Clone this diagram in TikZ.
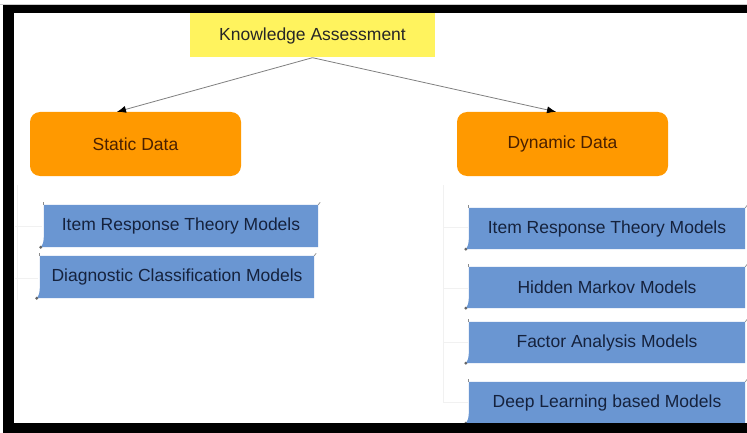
\documentclass[tikz,border=0pt]{standalone}
\usepackage{fontspec}
\setmainfont{Liberation Sans}
\usetikzlibrary{arrows.meta,backgrounds}
\definecolor{kayellow}{HTML}{FFF35E}
\definecolor{dataorange}{HTML}{FF9900}
\definecolor{modelblue}{HTML}{6A96D2}
\definecolor{modeltext}{HTML}{15223D}
\definecolor{orangetext}{HTML}{4A2000}
\definecolor{faint}{HTML}{F1F1F1}
\tikzset{
  rootbox/.style={fill=kayellow, minimum width=245pt, minimum height=44pt, inner sep=0pt,
    text=black!85, font=\fontsize{17.5}{19}\selectfont},
  databox/.style={fill=dataorange, rounded corners=10pt, minimum width=211pt, minimum height=64pt,
    inner sep=0pt, text=orangetext, font=\fontsize{17.5}{19}\selectfont},
  modelbox/.style={minimum height=42pt, inner sep=0pt, text=modeltext,
    font=\fontsize{17.5}{19}\selectfont},
  conn/.style={draw=black!50, line width=0.8pt, -{Latex[black,length=9pt,width=7pt]}},
  treeline/.style={draw=faint, line width=0.8pt},
}
\newcommand{\modelshape}[1]{%
  \fill[modelblue] ([xshift=-3pt]#1.south west) .. controls ([xshift=-0.5pt,yshift=4pt]#1.south west) .. ([yshift=10pt]#1.south west) -- (#1.north west) -- (#1.north east) -- (#1.south east) -- cycle;
  \fill[black!60] ([xshift=-3pt]#1.south west) circle (1.6pt);
  \draw[black!45, line width=0.7pt] (#1.north west) -- ++(0,2.5pt);
  \draw[black!45, line width=0.7pt] (#1.north east) -- ++(2pt,2.5pt);
}
\begin{document}
\begin{tikzpicture}[x=1pt,y=-1pt]
\useasboundingbox (0,0) rectangle (747,433);
\begin{scope}[on background layer]
\fill[white] (0,0) rectangle (747,433);
\end{scope}
% frame
\draw[black!20, line width=0.6pt] (0,4) -- (747,4);
\fill[black] (3,5) rectangle (747,13);
\fill[black] (3,5) rectangle (14,433);
% faint tree lines
\draw[treeline] (17,185) -- (17,300);
\draw[treeline] (15,226) -- (42,226);
\draw[treeline] (15,278) -- (38,278);
\draw[treeline] (443,185) -- (443,402);
\draw[treeline] (443,227) -- (468,227);
\draw[treeline] (443,288) -- (468,288);
\draw[treeline] (443,342) -- (468,342);
\draw[treeline] (443,402) -- (468,402);

\node[rootbox] (ka) at (312.5,35.5) {Knowledge Assessment};
\node[databox] (static) at (135.5,144) {Static Data};
\node[databox] (dynamic) at (562.5,144) {Dynamic Data};

\node[modelbox, minimum width=274pt] (sirt) at (181,226) {Item Response Theory Models};
\node[modelbox, minimum width=274pt] (sdcm) at (177,277) {Diagnostic Classification Models};
\node[modelbox, minimum width=276pt, minimum height=41pt] (dirt) at (607,228.5) {Item Response Theory Models};
\node[modelbox, minimum width=276pt, minimum height=41pt] (dhmm) at (607,287.5) {Hidden Markov Models};
\node[modelbox, minimum width=276pt, minimum height=41pt] (dfam) at (607,342.5) {Factor Analysis Models};
\node[modelbox, minimum width=276pt, minimum height=41pt] (ddl) at (607,402.5) {Deep Learning based Models};

\begin{scope}[on background layer]
  \modelshape{sirt}
  \modelshape{sdcm}
  \modelshape{dirt}
  \modelshape{dhmm}
  \modelshape{dfam}
  \modelshape{ddl}
\end{scope}
% bottom frame over the cut box
\fill[black] (3,423) rectangle (747,433);

\draw[conn] (ka.south) -- ([xshift=-18.5pt]static.north);
\draw[conn] (ka.south) -- ([xshift=-6.5pt]dynamic.north);
\end{tikzpicture}
\end{document}
